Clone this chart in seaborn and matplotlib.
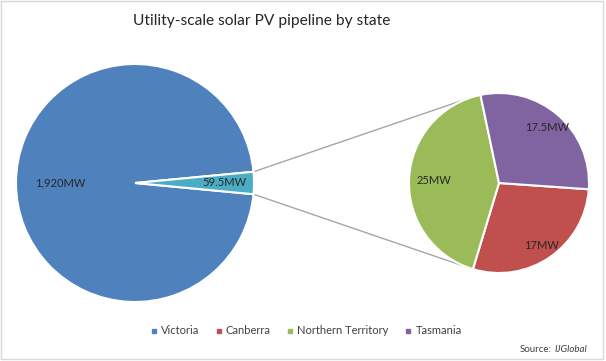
import numpy as np
import matplotlib
matplotlib.use("Agg")
import matplotlib.pyplot as plt
import seaborn as sns
from matplotlib.lines import Line2D
from matplotlib.patches import Rectangle

# data
main_labels = ["Victoria", "Other"]
main_values = [1920, 59.5]
sub_labels = ["Canberra", "Northern Territory", "Tasmania"]
sub_values = [17, 25, 17.5]
main_colors = ["#4F81BD", "#4BACC6"]
sub_colors = ["#C0504D", "#9BBB59", "#8064A2"]

sns.set_theme(style="white")
plt.rcParams["font.family"] = ["Lato", "DejaVu Sans"]

W, H = 606, 361
fig = plt.figure(figsize=(W / 100, H / 100), dpi=100)
# one axes covering the figure, data units = pixels (y from bottom)
ax = fig.add_axes([0, 0, 1, 1])


def place_labels(wedges, texts, values, center, radius, dists):
    # put value labels at given fraction of radius along each wedge's mid-angle
    for w, t, v, d in zip(wedges, texts, values, dists):
        a = np.deg2rad((w.theta1 + w.theta2) / 2)
        t.set_position((center[0] + d * radius * np.cos(a),
                        center[1] + d * radius * np.sin(a)))
        t.set_text(f"{v:,g}MW")


# main pie: "Other" wedge centred on the right
c1, r1 = (135, 178), 119
total = sum(main_values)
half = 180 * main_values[1] / total
w1, _, t1 = ax.pie(main_values, colors=main_colors, startangle=half, radius=r1,
                   center=c1, autopct="%1.0f", frame=True,
                   wedgeprops=dict(edgecolor="white", linewidth=1.5),
                   textprops=dict(fontsize=8, color="#262626"))
place_labels(w1, t1, main_values, c1, r1, [0.63, 0.75])

# secondary pie
c2, r2 = (499, 178), 90
w2, _, t2 = ax.pie(sub_values, colors=sub_colors, startangle=-4, counterclock=False,
                   radius=r2, center=c2, autopct="%1.0f", frame=True,
                   wedgeprops=dict(edgecolor="white", linewidth=1.5),
                   textprops=dict(fontsize=8, color="#262626"))
place_labels(w2, t2, sub_values, c2, r2, [0.84, 0.72, 0.82])

ax.set_xlim(0, W)
ax.set_ylim(0, H)
ax.set_aspect("equal")
ax.axis("off")

# connector lines
ow = w1[1]
for th1, th2 in [(ow.theta2, 109), (ow.theta1, -109)]:
    a1, a2 = np.deg2rad(th1), np.deg2rad(th2)
    ax.plot([c1[0] + r1 * np.cos(a1), c2[0] + r2 * np.cos(a2)],
            [c1[1] + r1 * np.sin(a1), c2[1] + r2 * np.sin(a2)],
            color="#A6A6A6", lw=1, zorder=0)

fig.text(262 / W, 1 - 21 / H, "Utility-scale solar PV pipeline by state",
         ha="center", va="center", fontsize=11.2, color="#262626")

legend_labels = ["Victoria"] + sub_labels
legend_colors = [main_colors[0]] + sub_colors
handles = [Line2D([], [], marker="s", ls="", color=c, markersize=3.5) for c in legend_colors]
fig.legend(handles, legend_labels, loc="center", bbox_to_anchor=(306 / W, 1 - 331 / H),
           ncol=4, frameon=False, fontsize=8, handlelength=0.6, handletextpad=0.35,
           columnspacing=1.45, labelcolor="#404040")

fig.text(552 / W, 1 - 349 / H, "Source:", ha="right", va="center", fontsize=7, color="#404040")
fig.text(555 / W, 1 - 349 / H, "IJGlobal", ha="left", va="center", fontsize=7,
         color="#404040", style="italic")

fig.patches.append(Rectangle((1 / W, 2 / H), 602 / W, 358 / H, transform=fig.transFigure,
                             fill=False, edgecolor="#D9D9D9", lw=1))

fig.savefig("out.png", dpi=100, facecolor="white")
